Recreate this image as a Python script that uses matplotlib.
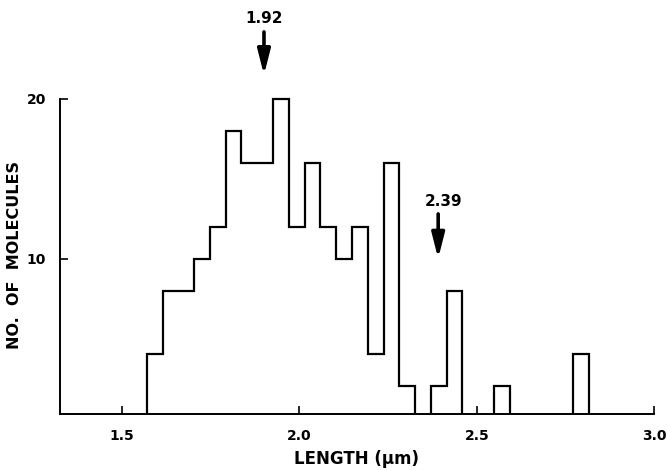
import numpy as np
import matplotlib
matplotlib.use("Agg")
import matplotlib.pyplot as plt

# ---- data ----
bin_left = 1.5695
bin_width = 0.0445
counts = [4, 8, 8, 10, 12, 18, 16, 16, 20, 12, 16, 12, 10, 12,
          4, 16, 2, 0, 2, 8, 0, 0, 2, 0, 0, 0, 0, 4]
xticks = [1.5, 2.0, 2.5, 3.0]
xtick_labels = ["1.5", "2.0", "2.5", "3.0"]
yticks = [10, 20]
ytick_labels = ["10", "20"]
peak_labels = ["1.92", "2.39"]
peak_x = [1.90, 2.391]

edges = bin_left + bin_width * np.arange(len(counts) + 1)

plt.rcParams["font.family"] = ["DejaVu Sans"]
plt.rcParams["font.weight"] = "bold"

fig = plt.figure(figsize=(6.67, 4.70), dpi=100)
ax = fig.add_axes([60 / 667, (470 - 414) / 470, 596 / 667, 414 / 470])

ax.stairs(counts, edges, baseline=0, fill=False, color="black", linewidth=1.6)

ax.set_xlim(1.325, 3.005)
ax.set_ylim(0.27, 26.2)

for s in ["top", "right"]:
    ax.spines[s].set_visible(False)
ax.spines["left"].set_bounds(0.27, 20)
ax.spines["bottom"].set_bounds(1.325, 3.0)
for s in ["left", "bottom"]:
    ax.spines[s].set_linewidth(1.4)

ax.set_xticks(xticks)
ax.set_xticklabels(xtick_labels, fontsize=10, fontweight="bold")
ax.set_yticks(yticks)
ax.set_yticklabels(ytick_labels, fontsize=10, fontweight="bold")
ax.tick_params(axis="x", direction="in", length=6, width=1.2, pad=11)
ax.tick_params(axis="y", direction="in", length=6, width=1.2, pad=10)

fig.text(356 / 667, 1 - 459 / 470, "LENGTH (μm)", fontsize=12,
         fontweight="bold", ha="center", va="center")
fig.text(15 / 667, 1 - 255 / 470, "NO.  OF  MOLECULES", rotation=90,
         fontsize=11.5, fontweight="bold", ha="center", va="center")

# peak annotations
arrow_tails = [24.2, 12.8]
arrow_tips = [21.5, 10.0]
text_x = [1.901, 2.405]
text_y = [25.05, 13.6]
for lbl, px, tx, ty, tail, tip in zip(peak_labels, peak_x, text_x, text_y,
                                       arrow_tails, arrow_tips):
    ax.annotate("", xy=(px, tip), xytext=(px, tail),
                arrowprops=dict(arrowstyle="-|>,head_length=1.5,head_width=0.38",
                                mutation_scale=10, lw=2.6, color="black",
                                shrinkA=0, shrinkB=0),
                annotation_clip=False)
    ax.text(tx, ty, lbl, fontsize=11, fontweight="bold", ha="center",
            va="center")

fig.savefig("out.png", dpi=100)
